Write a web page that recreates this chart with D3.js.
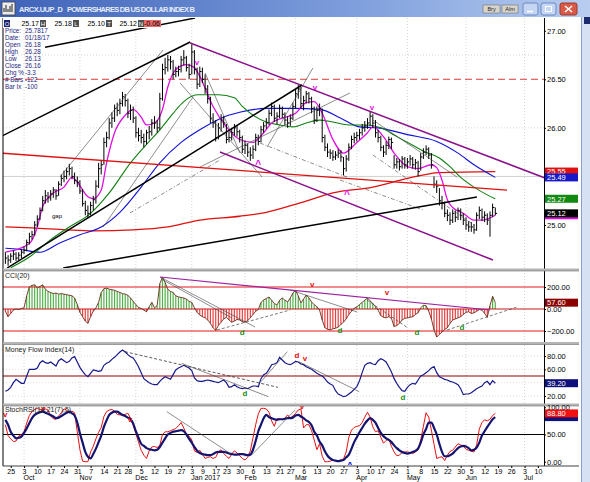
<!DOCTYPE html>
<html>
<head>
<meta charset="utf-8">
<script src="https://cdnjs.cloudflare.com/ajax/libs/d3/7.8.5/d3.min.js"></script>
<style>
  body { margin: 0; background: #fff; }
  svg { display: block; }
  text { font-family: "Liberation Sans", Arial, sans-serif; }
</style>
</head>
<body>
<svg id="chart" width="590" height="482"></svg>
<script>
//----------------------------------------------------------------------------
// calendar
const firstDay = "2016-09-22"
const lastAxisDay = "2017-07-14"
const holidays = ["2016-11-24", "2016-12-26", "2017-01-02", "2017-01-16", "2017-02-20", "2017-04-14", "2017-05-29"]

const weekTicks = ["2016-09-26", "2016-10-03", "2016-10-10", "2016-10-17", "2016-10-24", "2016-10-31",
    "2016-11-07", "2016-11-14", "2016-11-21", "2016-11-28", "2016-12-05", "2016-12-12", "2016-12-19",
    "2016-12-27", "2017-01-03", "2017-01-09", "2017-01-17", "2017-01-23", "2017-01-30", "2017-02-06",
    "2017-02-13", "2017-02-21", "2017-02-27", "2017-03-06", "2017-03-13", "2017-03-20", "2017-03-27",
    "2017-04-03", "2017-04-10", "2017-04-17", "2017-04-24", "2017-05-01", "2017-05-08", "2017-05-15",
    "2017-05-22", "2017-05-30", "2017-06-05", "2017-06-12", "2017-06-19", "2017-06-26", "2017-07-03", "2017-07-10"]
const weekLabels = ["25", "3", "10", "17", "24", "31", "7", "14", "21", "28", "5", "12", "19", "27", "3", "9",
    "17", "23", "30", "6", "13", "21", "27", "6", "13", "20", "27", "3", "10", "17", "24", "1", "8", "15",
    "22", "30", "5", "12", "19", "26", "3", "10"]
const monthStarts = ["2016-10-03", "2016-11-01", "2016-12-01", "2017-01-03", "2017-02-01", "2017-03-01",
    "2017-04-03", "2017-05-01", "2017-06-01", "2017-07-03"]
const monthLabels = ["Oct", "Nov", "Dec", "Jan 2017", "Feb", "Mar", "Apr", "May", "Jun", "Jul"]

//----------------------------------------------------------------------------
// daily bars (from 2016-09-22)
const high = [24.72,24.69,24.71,24.74,24.72,24.72,24.75,24.78,24.85,24.92,
    24.94,25.04,25.10,25.18,25.30,25.36,25.34,25.36,25.39,25.37,
    25.45,25.52,25.56,25.59,25.63,25.60,25.54,25.50,25.46,25.37,
    25.25,25.20,25.24,25.30,25.46,25.64,25.66,25.90,25.96,26.10,
    26.16,26.24,26.26,26.30,26.37,26.35,26.30,26.24,26.22,26.12,
    26.00,25.98,25.94,25.98,26.02,26.09,26.12,26.08,26.36,26.66,
    26.72,26.75,26.74,26.70,26.63,26.64,26.74,26.80,26.74,26.66,
    26.86,26.80,26.62,26.63,26.62,26.55,26.44,26.32,26.15,26.08,
    26.05,26.14,26.12,26.04,25.96,26.00,26.04,26.03,25.98,25.92,
    25.87,25.84,25.80,25.82,25.94,25.93,26.02,26.06,26.10,26.19,
    26.26,26.24,26.16,26.24,26.22,26.16,26.12,26.14,26.26,26.40,
    26.44,26.42,26.33,26.38,26.37,26.32,26.22,26.22,26.25,26.20,
    25.93,25.84,25.78,25.77,25.76,25.78,25.77,25.70,25.72,25.84,
    25.92,25.95,25.96,25.99,26.04,26.07,26.10,26.17,26.14,26.08,
    25.98,25.92,25.82,25.86,25.91,25.90,25.72,25.69,25.68,25.71,
    25.70,25.69,25.72,25.70,25.68,25.66,25.74,25.79,25.82,25.80,
    25.74,25.50,25.46,25.38,25.30,25.24,25.16,25.13,25.16,25.15,
    25.18,25.17,25.12,25.08,25.04,25.03,25.01,25.13,25.19,25.17,
    25.14,25.12,25.14,25.22,25.18]
const low = [24.60,24.58,24.61,24.64,24.63,24.64,24.66,24.70,24.73,24.80,
    24.85,24.89,24.98,25.05,25.14,25.22,25.23,25.25,25.28,25.26,
    25.30,25.40,25.44,25.47,25.51,25.47,25.42,25.39,25.32,25.19,
    25.10,25.07,25.10,25.15,25.22,25.38,25.52,25.62,25.80,25.88,
    26.00,26.06,26.12,26.14,26.22,26.22,26.10,26.08,26.05,25.90,
    25.86,25.84,25.80,25.83,25.88,25.92,25.99,25.95,25.98,26.28,
    26.55,26.58,26.60,26.50,26.52,26.53,26.57,26.64,26.58,26.50,
    26.55,26.55,26.40,26.42,26.46,26.35,26.25,26.05,26.00,25.86,
    25.88,25.96,26.00,25.84,25.85,25.87,25.92,25.91,25.85,25.74,
    25.73,25.70,25.66,25.68,25.76,25.82,25.85,25.95,25.99,26.03,
    26.12,26.06,26.04,26.10,26.10,26.03,26.00,26.02,26.08,26.20,
    26.30,26.20,26.18,26.25,26.25,26.15,26.04,26.06,26.12,25.85,
    25.76,25.70,25.68,25.66,25.67,25.69,25.65,25.51,25.55,25.66,
    25.78,25.84,25.86,25.88,25.92,25.96,25.99,26.02,26.00,25.90,
    25.85,25.76,25.70,25.72,25.78,25.78,25.58,25.58,25.56,25.58,
    25.58,25.58,25.61,25.58,25.57,25.50,25.56,25.68,25.72,25.68,
    25.58,25.38,25.33,25.20,25.16,25.08,25.04,25.00,25.02,25.03,
    25.05,25.05,25.00,24.95,24.93,24.93,24.91,24.94,25.06,25.04,
    25.03,25.00,24.88,25.08,25.10]
const close = [24.66,24.64,24.68,24.70,24.66,24.69,24.72,24.74,24.82,24.88,
    24.90,25.00,25.06,25.15,25.25,25.30,25.28,25.32,25.36,25.30,
    25.42,25.48,25.50,25.55,25.58,25.50,25.46,25.44,25.35,25.22,
    25.15,25.12,25.20,25.26,25.40,25.58,25.62,25.85,25.90,26.05,
    26.10,26.20,26.18,26.25,26.32,26.28,26.15,26.18,26.10,25.95,
    25.92,25.90,25.86,25.95,25.96,26.05,26.05,26.00,26.30,26.60,
    26.62,26.70,26.68,26.55,26.58,26.60,26.70,26.72,26.62,26.55,
    26.78,26.60,26.45,26.58,26.50,26.40,26.30,26.10,26.05,25.90,
    26.00,26.08,26.05,25.88,25.90,25.95,26.00,25.96,25.90,25.78,
    25.82,25.75,25.72,25.78,25.90,25.86,25.98,26.02,26.05,26.15,
    26.22,26.10,26.12,26.20,26.14,26.08,26.05,26.10,26.22,26.35,
    26.40,26.25,26.28,26.35,26.30,26.20,26.08,26.18,26.20,25.90,
    25.80,25.75,25.74,25.70,25.72,25.74,25.70,25.58,25.68,25.80,
    25.88,25.90,25.92,25.95,26.00,26.02,26.05,26.12,26.05,25.95,
    25.90,25.80,25.75,25.82,25.88,25.85,25.62,25.65,25.60,25.68,
    25.62,25.65,25.68,25.62,25.64,25.55,25.70,25.75,25.78,25.72,
    25.62,25.42,25.40,25.25,25.22,25.12,25.10,25.05,25.12,25.08,
    25.15,25.10,25.05,25.00,24.98,24.98,24.95,25.10,25.15,25.08,
    25.10,25.05,25.10,25.18,25.12]

// moving averages: [day index, value]
const maFast = [[0,24.72],[9,24.81],[12,24.98],[14,25.19],[18,25.33],[22,25.39],[25,25.49],[27,25.44],[31,25.29],
    [33,25.27],[36,25.36],[38,25.64],[41,25.95],[45,26.13],[48,26.19],[51,26.11],[53,26.03],[56,26.05],[59,26.19],
    [61,26.42],[64,26.60],[68,26.65],[71,26.62],[73,26.53],[78,26.22],[83,26.01],[88,25.88],[93,25.85],[97,25.95],
    [100,26.05],[104,26.10],[109,26.15],[113,26.26],[116,26.27],[119,26.15],[123,25.88],[127,25.74],[132,25.85],
    [136,25.95],[138,26.01],[142,25.91],[146,25.74],[151,25.60],[155,25.58],[160,25.62],[162,25.59],[164,25.46],
    [166,25.26],[168,25.18],[172,25.12],[176,25.05],[179,25.05],[184,25.10]]
const maGreen = [[2,24.56],[9,24.67],[17,24.85],[24,24.98],[32,25.12],[39,25.33],[47,25.64],[52,25.80],[58,25.98],
    [63,26.15],[67,26.27],[72,26.34],[80,26.34],[86,26.31],[89,26.22],[98,26.06],[103,26.03],[108,26.01],[113,26.05],
    [118,26.08],[123,26.06],[129,26.03],[136,26.03],[141,26.00],[147,25.91],[153,25.82],[157,25.76],[163,25.69],
    [167,25.60],[171,25.49],[176,25.39],[181,25.31],[184,25.27]]
const maBlue = [[0,24.76],[5,24.75],[13,24.72],[20,24.81],[28,24.90],[36,24.98],[43,25.13],[51,25.39],[58,25.64],
    [66,25.85],[73,25.98],[81,26.10],[88,26.16],[98,26.20],[108,26.20],[118,26.19],[126,26.10],[133,26.01],
    [140,26.00],[151,25.93],[162,25.86],[170,25.74],[176,25.62],[184,25.49]]
const ma200 = [[0,24.98],[10,24.97],[23,24.95],[33,24.94],[48,24.95],[61,24.98],[73,25.05],[88,25.09],[98,25.13],
    [111,25.23],[123,25.33],[138,25.39],[151,25.48],[163,25.54],[184,25.55]]

// indicators, daily
const cci = [-20,-70,-40,-10,0,-5,5,10,120,200,
    215,220,190,205,220,180,160,150,140,145,
    135,140,135,130,125,120,100,40,-30,-70,
    -110,-130,-70,-20,10,60,150,185,190,180,
    175,170,160,150,140,135,125,100,70,40,
    15,5,-10,-25,20,60,10,30,230,290,
    240,180,160,150,120,110,105,100,90,70,
    60,10,-30,-55,-70,-80,-100,-130,-170,-195,
    -150,-120,-90,-75,-100,-120,-110,-95,-100,-115,
    -120,-105,-80,-50,-20,-5,60,82,95,109,
    80,50,36,80,100,80,64,100,145,170,
    120,55,90,127,100,64,40,20,-9,-100,
    -170,-185,-190,-180,-175,-165,-140,-120,-90,-50,
    -20,5,20,40,60,80,100,75,50,20,
    -10,-60,-75,-80,-70,-85,-160,-150,-130,-100,
    -85,-80,-75,-70,-50,-35,10,35,30,-20,
    -90,-190,-255,-230,-210,-185,-170,-130,-100,-90,
    -80,-70,-50,-30,-25,-40,-35,-20,-5,-10,
    -40,-75,30,115,57.6]
const mfi = [27,29,33,40,45,42,39,39,50,60,
    60,60,62,70,73,70,69,71,68,65,
    73,76,73,70,72,77,79,71,63,57,
    52,49,54,59,58,57,58,66,69,71,
    75,78,82,86,89,86,82,79,77,71,
    64,55,46,43,40,38,37,37,42,46,
    49,47,45,52,59,62,64,66,64,62,
    58,47,43,42,42,43,44,43,42,41,
    40,42,44,40,33,34,37,34,32,31,
    32,31,33,35,35,34,46,52,54,60,
    67,68,70,78,74,70,68,67,69,72,
    71,68,67,64,62,60,57,54,52,50,
    46,41,38,36,28,23,21,19,20,23,
    26,30,34,43,55,66,69,70,68,67,
    73,76,74,71,64,56,46,39,33,28,
    27,33,37,39,38,44,50,52,55,58,
    62,64,55,49,47,45,44,42,41,39,
    37,31,22,23,23,25,28,31,33,35,
    40,42,37,43,39.2]
const stochK = [68,48,42,37,38,47,50,55,71,85,
    92,96,98,96,95,97,95,84,79,78,
    84,90,97,95,90,93,90,55,22,1,
    0,0,18,28,42,54,63,83,92,95,
    96,93,87,86,86,87,89,80,67,52,
    36,21,12,6,20,27,28,26,30,50,
    55,55,57,59,61,66,72,62,50,47,
    40,20,17,21,14,6,8,9,6,8,
    18,22,15,10,6,14,20,16,11,6,
    3,8,20,44,68,88,98,98,97,91,
    75,65,79,79,77,80,86,80,84,89,
    95,97,62,68,68,57,40,22,33,10,
    0,0,1,3,2,2,3,5,18,45,
    58,63,65,66,72,82,91,82,64,55,
    57,45,34,39,42,28,18,11,12,17,
    18,18,17,15,18,22,40,65,90,82,
    58,32,6,8,9,2,12,19,21,27,
    33,31,28,23,21,19,18,31,60,72,
    77,75,78,85,88.8]
const stochD = [77,68,55,48,43,44,46,53,61,71,
    80,86,89,91,92,90,88,86,83,80,
    81,84,87,90,92,89,85,72,52,35,
    18,9,6,14,24,36,48,64,76,86,
    90,92,92,89,86,84,81,78,70,56,
    44,33,29,25,23,22,21,22,27,35,
    43,50,53,55,56,57,58,56,50,42,
    35,27,20,16,14,13,12,12,14,17,
    18,18,18,17,15,14,13,13,14,14,
    13,12,13,22,38,56,68,80,86,82,
    80,78,77,78,78,79,80,80,81,85,
    86,83,80,76,73,67,55,48,37,30,
    19,11,6,3,2,1,2,3,8,13,
    24,36,45,54,62,70,76,80,77,72,
    62,53,47,43,40,36,30,25,21,18,
    16,15,16,18,20,24,35,50,60,72,
    72,62,50,33,18,10,10,12,15,20,
    25,28,29,28,25,21,22,26,35,48,
    56,64,71,78,82]

// axis tick values
const priceTicks = [27, 26.5, 26, 25]
const priceGrid = [26.75, 26]
const cciTicks = [200, 0, -200]
const mfiTicks = [80, 60, 20]
const mfiGrid = [80, 60, 40, 20]
const stochTicks = [100, 50, 0]

// annotation lines drawn on the chart: [[day, value], [day, value]]
const priceBlack = [[[14.9,26.83],[71.2,27.13]], [[-2,25.906],[69.4,26.884]], [[0.64,24.557],[111.4,26.441]], [[21.7,24.557],[177.1,25.288]]]
const pricePurple = [[[69.4,26.873],[202.7,25.484]], [[80.6,25.751],[183.1,24.64]]]
const priceRed = [[[-2,25.741],[188.4,25.36]]]
const priceThin = [[[20.5,25.494],[59.2,26.801]], [[36.7,24.979],[70.5,26.318]], [[65.6,26.462],[96.4,25.494]],
    [[75,26.565],[88.1,25.741]], [[98.3,25.803],[115.5,26.616]], [[73.1,25.597],[129.4,26.359]], [[138,26.081],[169.6,25.494]]]
const priceDash = [[[46.8,25.124],[80.6,25.669]], [[95.6,25.844],[128.3,25.494]], [[138,25.721],[177.1,24.979]], [[125.7,25.463],[156.9,25.154]]]
const resistance = 26.5
const cciPurple = [[[58.1,291],[182,-9]]]
const cciThin = [[[58.1,291],[93.8,-164]], [[59.2,264],[85.1,-82]], [[107,173],[132.1,-27]]]
const cciDash = [[[79.5,-191],[107,-9]], [[135.8,82],[151.2,-173]], [[165.9,-191],[192.2,18]]]
const mfiDash = [[[44.9,86.5],[102.4,33]]]
const mfiThin = [[[66.2,69],[98.8,19]], [[96,41.5],[105.9,86.5]], [[110.2,71.5],[132.9,26.5]]]
const stochThin = [[[60.6,92],[84.4,15.4]], [[92.5,12.3],[108.8,95]]]

// signal marks: [day, value]
const priceTops = [[72,26.67],[116.3,26.41],[137.7,26.21]]
const priceBottoms = [[94.9,25.66],[128.3,25.36]]
const gapNotes = [[19.4,25.09]]
const cciSells = [[115.2,218],[143.3,145]]
const cciBuys = [[88.9,-209],[125.7,-191],[154.6,-209],[171.5,-164]]
const mfiBuys = [[90,24.4],[149.3,18.5]]
const mfiSellD = [[109.5,81.4]]
const mfiSellV = [[112.5,75.4]]
const stochSells = [[-0.1,86],[14.2,97],[46.8,76.6],[111.4,100.5]]
const stochBuys = [[129.4,-2]]

// header texts
const symbol = "ARCX.UUP_D"
const title = "POWERSHARES DB US DOLLAR INDEX B"
const quoteKeys = ["O", "H", "L", "T", "N"]
const quoteVals = ["25.17", "25.18", "25.10", "25.12", "-0.06"]
const cursorKeys = ["Price:", "Date:", "Open", "High", "Low", "Close", "Chg %", "# Bars", "Bar Ix"]
const cursorVals = ["25.7817", "01/18/17", "26.18", "26.28", "26.13", "26.16", "-3.3", "-122", "-100"]

//----------------------------------------------------------------------------
// trading day index
const hol = new Set(holidays)
const fmt = d3.timeFormat("%Y-%m-%d")
const days = d3.timeDay.range(d3.timeParse("%Y-%m-%d")(firstDay), d3.timeDay.offset(d3.timeParse("%Y-%m-%d")(lastAxisDay), 1))
    .filter(d => d.getDay() > 0 && d.getDay() < 6 && !hol.has(fmt(d)))
    .map(fmt)
const dayIx = s => days.indexOf(s)

//----------------------------------------------------------------------------
// scales
const left = 3, right = 544
const x = d3.scaleLinear().domain([-0.9, 202.3]).range([left, right])
const yP = d3.scaleLinear().domain([25, 27]).range([225, 30.7])
const yC = d3.scaleLinear().domain([-200, 200]).range([331, 287])
const yM = d3.scaleLinear().domain([20, 80]).range([396, 356])
const yS = d3.scaleLinear().domain([0, 100]).range([461.7, 407.3])

const panes = [
    { id: "p", top: 18, bottom: 268 },
    { id: "c", top: 272, bottom: 342 },
    { id: "m", top: 345, bottom: 404 },
    { id: "s", top: 406, bottom: 465 }
]

const svg = d3.select("#chart")
svg.append("rect").attr("width", 590).attr("height", 482).attr("fill", "#fff")

const defs = svg.append("defs")
panes.forEach(p => {
    defs.append("clipPath").attr("id", "clip-" + p.id)
        .append("rect").attr("x", left).attr("y", p.top).attr("width", right - left).attr("height", p.bottom - p.top)
})
const pane = id => svg.append("g").attr("clip-path", `url(#clip-${id})`)

//----------------------------------------------------------------------------
// grid
const grid = svg.append("g")
grid.selectAll(".vg").data(monthStarts).join("line")
    .attr("x1", d => x(dayIx(d))).attr("x2", d => x(dayIx(d)))
    .attr("y1", 18).attr("y2", 465)
    .attr("stroke", "#b8b8b8").attr("stroke-width", 0.6).attr("stroke-dasharray", "1,2")
grid.selectAll(".hg").data(priceGrid).join("line")
    .attr("x1", left).attr("x2", right).attr("y1", d => yP(d)).attr("y2", d => yP(d))
    .attr("stroke", "#b8b8b8").attr("stroke-width", 0.6).attr("stroke-dasharray", "1,2")
grid.append("line").attr("x1", left).attr("x2", right).attr("y1", yP(25.5)).attr("y2", yP(25.5))
    .attr("stroke", "#d0d0d0").attr("stroke-width", 1)
grid.selectAll(".mg").data(mfiGrid).join("line")
    .attr("x1", left).attr("x2", right).attr("y1", d => yM(d)).attr("y2", d => yM(d))
    .attr("stroke", "#c8c8c8").attr("stroke-width", 0.6).attr("stroke-dasharray", "1,2")

//----------------------------------------------------------------------------
// price pane
const gp = pane("p")
const seg = (g, data, ys, color, width, dash) => g.selectAll(null).data(data).join("line")
    .attr("x1", d => x(d[0][0])).attr("y1", d => ys(d[0][1]))
    .attr("x2", d => x(d[1][0])).attr("y2", d => ys(d[1][1]))
    .attr("stroke", color).attr("stroke-width", width).attr("stroke-dasharray", dash || null)

gp.append("line").attr("x1", left).attr("x2", right).attr("y1", yP(resistance)).attr("y2", yP(resistance))
    .attr("stroke", "#e03838").attr("stroke-width", 1).attr("stroke-dasharray", "7,4")

const maLine = d3.line().x(d => x(d[0])).y(d => yP(d[1])).curve(d3.curveMonotoneX)
gp.append("path").attr("d", maLine(ma200)).attr("fill", "none").attr("stroke", "#e01010").attr("stroke-width", 1.3)
gp.append("path").attr("d", maLine(maBlue)).attr("fill", "none").attr("stroke", "#1010d8").attr("stroke-width", 1.1)
gp.append("path").attr("d", maLine(maGreen)).attr("fill", "none").attr("stroke", "#108010").attr("stroke-width", 1.1)
gp.append("path").attr("d", maLine(maFast)).attr("fill", "none").attr("stroke", "#e010e0").attr("stroke-width", 1.3)

// HLC bars
gp.append("g").selectAll("path").data(close).join("path")
    .attr("d", (c, i) => `M${x(i).toFixed(1)},${yP(high[i])}V${yP(low[i])}M${x(i).toFixed(1)},${yP(c)}h1.8`)
    .attr("stroke", "#000").attr("stroke-width", 1).attr("fill", "none")

seg(gp, priceThin, yP, "#404040", 0.6)
seg(gp, priceDash, yP, "#404040", 0.6, "4,2,1,2")
seg(gp, priceRed, yP, "#e01010", 1.3)
seg(gp, pricePurple, yP, "#8a108a", 1.5)
seg(gp, priceBlack, yP, "#000", 1.5)

const mark = (g, data, ys, txt, color, size, dy) => g.selectAll(null).data(data).join("text")
    .attr("x", d => x(d[0])).attr("y", d => ys(d[1])).attr("dy", dy)
    .attr("text-anchor", "middle").attr("font-size", size).attr("font-weight", "bold")
    .attr("fill", color).text(txt)

mark(gp, priceTops, yP, "v", "#e010e0", 8, "0.3em")
mark(gp, priceBottoms, yP, "^", "#e010e0", 10, "0.75em")
gp.selectAll(null).data(gapNotes).join("text")
    .attr("x", d => x(d[0])).attr("y", d => yP(d[1])).attr("dy", "0.3em")
    .attr("text-anchor", "middle").attr("font-size", 6).attr("fill", "#000").text("gap")

//----------------------------------------------------------------------------
// CCI pane
const gc = pane("c")
gc.selectAll(".h").data(cci).join("line")
    .attr("x1", (d, i) => x(i)).attr("x2", (d, i) => x(i))
    .attr("y1", yC(0)).attr("y2", d => yC(d))
    .attr("stroke", d => d >= 0 ? "#52b04a" : "#e84040").attr("stroke-width", 1.2)
gc.selectAll(".lv").data(cciTicks).join("line")
    .attr("x1", left).attr("x2", right).attr("y1", d => yC(d)).attr("y2", d => yC(d))
    .attr("stroke", d => d === 0 ? "#c81818" : "#e01818").attr("stroke-width", 1)
gc.append("path").attr("d", d3.line().x((d, i) => x(i)).y(d => yC(d))(cci))
    .attr("fill", "none").attr("stroke", "#6a2a1a").attr("stroke-width", 0.9)
seg(gc, cciThin, yC, "#404040", 0.6)
seg(gc, cciDash, yC, "#404040", 0.7, "3,2")
seg(gc, cciPurple, yC, "#a020a0", 1.2)
mark(gc, cciSells, yC, "v", "#e01010", 8, "0.3em")
mark(gc, cciBuys, yC, "d", "#189018", 8, "0.35em")

//----------------------------------------------------------------------------
// MFI pane
const gm = pane("m")
gm.append("line").attr("x1", left).attr("x2", right).attr("y1", yM(50)).attr("y2", yM(50))
    .attr("stroke", "#900000").attr("stroke-width", 1)
gm.append("path").attr("d", d3.line().x((d, i) => x(i)).y(d => yM(d))(mfi))
    .attr("fill", "none").attr("stroke", "#18188a").attr("stroke-width", 1.2)
seg(gm, mfiThin, yM, "#404040", 0.6)
seg(gm, mfiDash, yM, "#303030", 0.8, "3,2")
mark(gm, mfiBuys, yM, "d", "#189018", 8, "0.35em")
mark(gm, mfiSellD, yM, "d", "#e01010", 8, "0.35em")
mark(gm, mfiSellV, yM, "v", "#e01010", 8, "0.3em")

//----------------------------------------------------------------------------
// StochRSI pane
const gs = pane("s")
gs.append("line").attr("x1", left).attr("x2", right).attr("y1", yS(50)).attr("y2", yS(50))
    .attr("stroke", "#000").attr("stroke-width", 1)
gs.append("path").attr("d", d3.line().x((d, i) => x(i)).y(d => yS(d))(stochK))
    .attr("fill", "none").attr("stroke", "#e81010").attr("stroke-width", 1)
gs.append("path").attr("d", d3.line().x((d, i) => x(i)).y(d => yS(d)).curve(d3.curveMonotoneX)(stochD))
    .attr("fill", "none").attr("stroke", "#141470").attr("stroke-width", 2.2)
seg(gs, stochThin, yS, "#404040", 0.6)
mark(gs, stochSells, yS, "v", "#e01010", 8, "0.3em")
mark(gs, stochBuys, yS, "^", "#1010e0", 10, "0.75em")

//----------------------------------------------------------------------------
// pane titles
const ptitle = (txt, y) => svg.append("text").attr("x", 5).attr("y", y).attr("font-size", 7).attr("fill", "#202020").text(txt)
ptitle("CCI(20)", 278)
ptitle("Money Flow Index(14)", 352)
ptitle("StochRSI(14,21(7),5)", 411.5)

//----------------------------------------------------------------------------
// frames and separators
const frame = svg.append("g")
frame.append("line").attr("x1", left).attr("x2", left).attr("y1", 18).attr("y2", 466).attr("stroke", "#000")
frame.append("line").attr("x1", right + 0.5).attr("x2", right + 0.5).attr("y1", 18).attr("y2", 466).attr("stroke", "#000")
;[269.5, 343, 404.5].forEach(y => {
    frame.append("rect").attr("x", left).attr("y", y - 1).attr("width", 579 - left).attr("height", 2.5).attr("fill", "#b4b4b4")
    frame.append("line").attr("x1", left).attr("x2", 579).attr("y1", y + 1.5).attr("y2", y + 1.5).attr("stroke", "#707070").attr("stroke-width", 0.6)
})
frame.append("line").attr("x1", left).attr("x2", 579).attr("y1", 466).attr("y2", 466).attr("stroke", "#404040")

//----------------------------------------------------------------------------
// right axes
const rAxis = (ys, ticks) => svg.append("g").attr("transform", `translate(${right},0)`)
    .call(d3.axisRight(ys).tickValues(ticks).tickSize(2).tickPadding(1).tickFormat(d3.format(".2f")))
    .call(g => g.select(".domain").remove())
    .call(g => g.selectAll("text").attr("font-size", 7.5).attr("font-family", "Liberation Sans, Arial, sans-serif").attr("fill", "#000"))
rAxis(yP, priceTicks)
rAxis(yC, cciTicks)
rAxis(yM, mfiTicks)
rAxis(yS, stochTicks)

// last-value boxes; a box whose value is hidden under the next one is drawn without its text
const vbox = (v, ys, fill, withText) => {
    const yy = ys(v)
    svg.append("rect").attr("x", 545).attr("y", yy - 4).attr("width", 33).attr("height", 8).attr("fill", fill)
    if (withText) svg.append("text").attr("x", 547).attr("y", yy + 2.8).attr("font-size", 7.5).attr("fill", "#fff").text(d3.format(".2f")(v))
}
vbox(ma200[ma200.length - 1][1], yP, "#e01010", true)
vbox(maBlue[maBlue.length - 1][1], yP, "#1818c8", true)
vbox(maGreen[maGreen.length - 1][1], yP, "#108a10", true)
vbox(maFast[maFast.length - 1][1], yP, "#e010e0", false)
vbox(close[close.length - 1], yP, "#000", true)
vbox(cci[cci.length - 1], yC, "#8a0000", true)
vbox(mfi[mfi.length - 1], yM, "#10107a", true)
vbox(stochD[stochD.length - 1], yS, "#10107a", false)
vbox(stochK[stochK.length - 1], yS, "#f01010", true)

//----------------------------------------------------------------------------
// date axis
svg.append("g").attr("transform", "translate(0,466)")
    .call(d3.axisBottom(x).tickValues(weekTicks.map(dayIx)).tickSize(2).tickPadding(1)
        .tickFormat((d, i) => weekLabels[i]))
    .call(g => g.select(".domain").remove())
    .call(g => g.selectAll("text").attr("font-size", 7).attr("font-family", "Liberation Sans, Arial, sans-serif").attr("fill", "#000"))
svg.append("g").selectAll("text").data(monthStarts).join("text")
    .attr("x", d => x(dayIx(d)) - 0.5).attr("y", 479.5)
    .attr("font-size", 7).attr("fill", "#000")
    .text((d, i) => monthLabels[i])

//----------------------------------------------------------------------------
// title bar
const tb = defs.append("linearGradient").attr("id", "tbar")
tb.append("stop").attr("offset", "0%").attr("stop-color", "#3e62b8")
tb.append("stop").attr("offset", "60%").attr("stop-color", "#7e9edc")
tb.append("stop").attr("offset", "100%").attr("stop-color", "#b8cdf0")
svg.append("rect").attr("x", 0).attr("y", 0).attr("width", 590).attr("height", 17).attr("fill", "url(#tbar)")
svg.append("rect").attr("x", 2).attr("y", 2).attr("width", 13).attr("height", 13).attr("fill", "#ececec").attr("stroke", "#404040").attr("stroke-width", 0.8)
svg.append("path").attr("d", "M4,12V8M6,12V5M8,12V9M10,12V6M12,12V4").attr("stroke", "#202020").attr("stroke-width", 1)
svg.append("text").attr("x", 19).attr("y", 12).attr("font-size", 7.5).attr("font-weight", "bold")
    .attr("fill", "#e4ecfa").attr("textLength", 44).text(symbol)
svg.append("text").attr("x", 67).attr("y", 12).attr("font-size", 7.5).attr("font-weight", "bold")
    .attr("fill", "#e4ecfa").attr("textLength", 128).text(title)

const btn = (bx, w, label) => {
    svg.append("rect").attr("x", bx).attr("y", 5).attr("width", w).attr("height", 8).attr("fill", "#d8d4cc").attr("stroke", "#707070").attr("stroke-width", 0.6)
    svg.append("text").attr("x", bx + w / 2).attr("y", 11.3).attr("text-anchor", "middle").attr("font-size", 5.5).attr("fill", "#202020").text(label)
}
btn(483, 17, "Bry")
btn(502, 16, "Alm")
svg.append("rect").attr("x", 523).attr("y", 3).attr("width", 15).attr("height", 12).attr("rx", 2).attr("fill", "#c4d6f4").attr("stroke", "#6a88c0")
svg.append("line").attr("x1", 527).attr("x2", 533).attr("y1", 11.5).attr("y2", 11.5).attr("stroke", "#fff").attr("stroke-width", 1.5)
svg.append("rect").attr("x", 541).attr("y", 3).attr("width", 15).attr("height", 12).attr("rx", 2).attr("fill", "#c4d6f4").attr("stroke", "#6a88c0")
svg.append("rect").attr("x", 545.5).attr("y", 6.5).attr("width", 6).attr("height", 5).attr("fill", "none").attr("stroke", "#fff")
svg.append("rect").attr("x", 560).attr("y", 3).attr("width", 17).attr("height", 12).attr("rx", 2).attr("fill", "#d85a48").attr("stroke", "#a03828")
svg.append("path").attr("d", "M565,6L572,12M572,6L565,12").attr("stroke", "#fff").attr("stroke-width", 1.6)

// window edge on the right
svg.append("rect").attr("x", 581).attr("y", 17).attr("width", 9).attr("height", 465).attr("fill", "#d6e2f4")
svg.append("line").attr("x1", 581.5).attr("x2", 581.5).attr("y1", 17).attr("y2", 482).attr("stroke", "#8aa0c8")
svg.append("rect").attr("x", 584).attr("y", 17).attr("width", 6).attr("height", 7).attr("fill", "#1c2a6e")

//----------------------------------------------------------------------------
// quote strip
const qx = [4, 40, 73, 106, 138]
const qg = svg.append("g")
qg.append("rect").attr("x", left).attr("y", 18).attr("width", 158).attr("height", 10).attr("fill", "#fff")
quoteKeys.forEach((k, i) => {
    qg.append("rect").attr("x", qx[i]).attr("y", 20).attr("width", 6).attr("height", 7).attr("fill", i === 0 ? "#1c2470" : "#505050")
    qg.append("text").attr("x", qx[i] + 3).attr("y", 26).attr("text-anchor", "middle").attr("font-size", 6).attr("fill", "#fff").text(k)
})
qg.append("rect").attr("x", 144).attr("y", 20).attr("width", 17).attr("height", 7).attr("fill", "#e86a6a")
quoteVals.forEach((v, i) => {
    const endX = i < 4 ? qx[i + 1] - 1 : 160
    qg.append("text").attr("x", endX).attr("y", 26.3).attr("text-anchor", "end").attr("font-size", 7).attr("fill", "#000").text(v)
})

// cursor data window
const cg = svg.append("g").attr("font-size", 6.3).attr("fill", "#1c1c80")
cursorKeys.forEach((k, i) => {
    cg.append("text").attr("x", 5).attr("y", 33 + i * 7).text(k)
    cg.append("text").attr("x", 25).attr("y", 33 + i * 7).text(cursorVals[i])
})
</script>
</body>
</html>
